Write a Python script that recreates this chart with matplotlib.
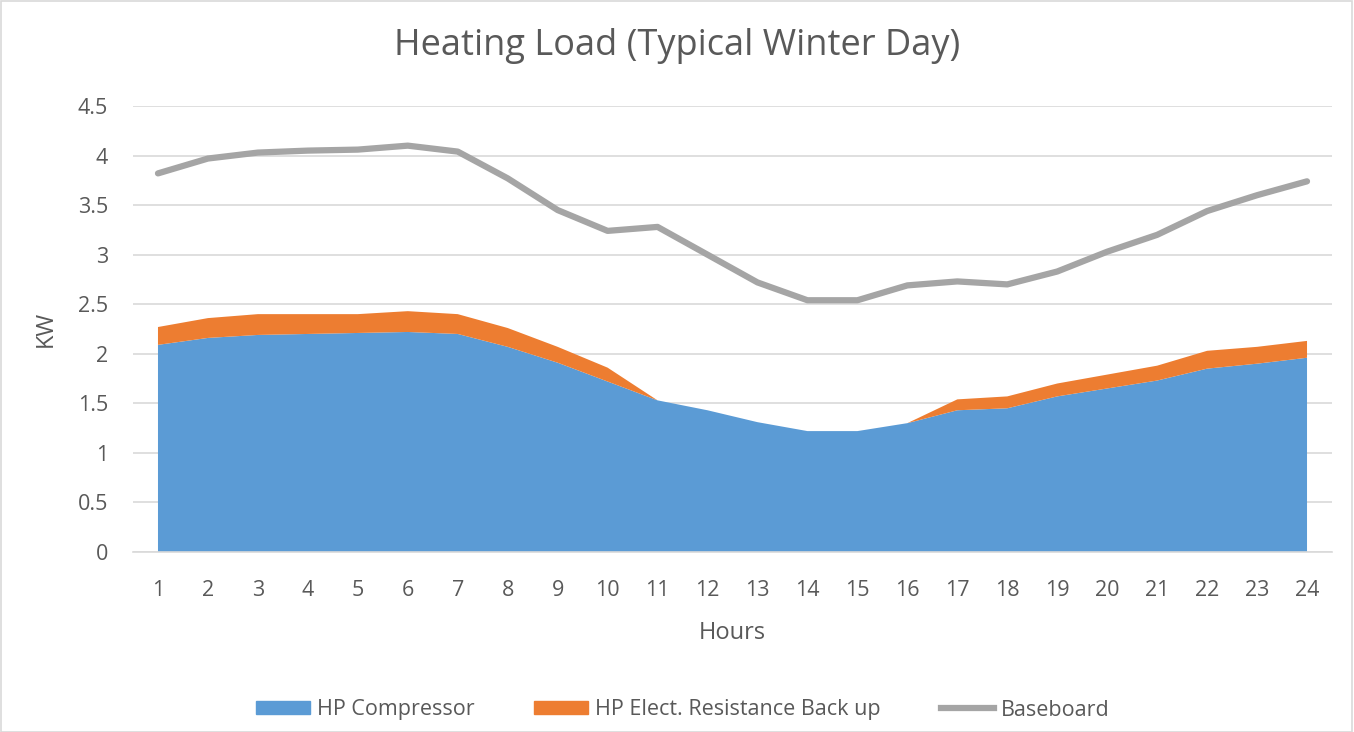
import matplotlib
matplotlib.use("Agg")
import matplotlib.pyplot as plt
from matplotlib.patches import Rectangle
from matplotlib.lines import Line2D
from matplotlib.patches import Patch

plt.rcParams['font.family'] = ['Open Sans', 'DejaVu Sans']

hours = list(range(1, 25))
hp_compressor = [2.09, 2.16, 2.19, 2.20, 2.21, 2.22, 2.20, 2.07, 1.91, 1.72, 1.53, 1.43,
                 1.31, 1.22, 1.22, 1.30, 1.43, 1.45, 1.57, 1.65, 1.73, 1.85, 1.90, 1.96]
hp_backup = [0.18, 0.20, 0.21, 0.20, 0.19, 0.21, 0.20, 0.19, 0.16, 0.14, 0.0, 0.0,
             0.0, 0.0, 0.0, 0.0, 0.11, 0.12, 0.13, 0.14, 0.15, 0.18, 0.17, 0.17]
baseboard = [3.82, 3.97, 4.03, 4.05, 4.06, 4.10, 4.04, 3.77, 3.45, 3.24, 3.28, 3.00,
             2.72, 2.54, 2.54, 2.69, 2.73, 2.70, 2.83, 3.03, 3.20, 3.44, 3.60, 3.74]
yticks = [0, 0.5, 1, 1.5, 2, 2.5, 3, 3.5, 4, 4.5]
ytick_labels = ['0', '0.5', '1', '1.5', '2', '2.5', '3', '3.5', '4', '4.5']

blue = '#5B9BD5'
orange = '#ED7D31'
gray = '#A5A5A5'
txt = '#595959'

fig = plt.figure(figsize=(13.54, 7.32), dpi=100)
ax = fig.add_axes([133/1354, 1-552/732, (1332-133)/1354, (552-106)/732])

ax.stackplot(hours, hp_compressor, hp_backup, colors=[blue, orange], linewidth=0, zorder=2)
ax.plot(hours, baseboard, color=gray, lw=4.5, solid_capstyle='round', solid_joinstyle='round', zorder=3)

ax.set_xlim(0.5, 24.5)
ax.set_ylim(0, 4.5)
ax.set_yticks(yticks)
ax.set_yticklabels(ytick_labels)
ax.set_xticks(hours)
ax.set_xticklabels([str(h) for h in hours])
ax.grid(axis='y', color='#D9D9D9', lw=1.2, zorder=0)
ax.set_axisbelow(True)
for s in ['top', 'right', 'left']:
    ax.spines[s].set_visible(False)
ax.spines['bottom'].set_color('#D9D9D9')
ax.spines['bottom'].set_linewidth(1.2)
ax.tick_params(axis='both', length=0, labelsize=15.5, colors=txt)
ax.tick_params(axis='y', pad=18)
ax.tick_params(axis='x', pad=20.5)

ax.set_xlabel('Hours', fontsize=17, color=txt, labelpad=14)
ax.set_ylabel('KW', fontsize=17, color=txt, labelpad=14)

fig.text(0.5, 1-46/732, 'Heating Load (Typical Winter Day)', ha='center', va='center',
         fontsize=26, color=txt)

handles = [Patch(facecolor=blue, edgecolor=blue),
           Patch(facecolor=orange, edgecolor=orange),
           Line2D([0], [0], color=gray, lw=4.5)]
labels = ['HP Compressor', 'HP Elect. Resistance Back up', 'Baseboard']
fig.legend(handles, labels, loc='center', bbox_to_anchor=(683/1354, 1-710/732), ncol=3,
           frameon=False, fontsize=15.5, labelcolor=txt, handlelength=2.5, handleheight=0.55,
           columnspacing=2.8, handletextpad=0.3)

fig.patches.append(Rectangle((0.0005, 0.0005), 0.998, 0.998, transform=fig.transFigure,
                             fill=False, edgecolor='#D9D9D9', lw=1.2))

fig.savefig('out.png', dpi=100, facecolor='white')
